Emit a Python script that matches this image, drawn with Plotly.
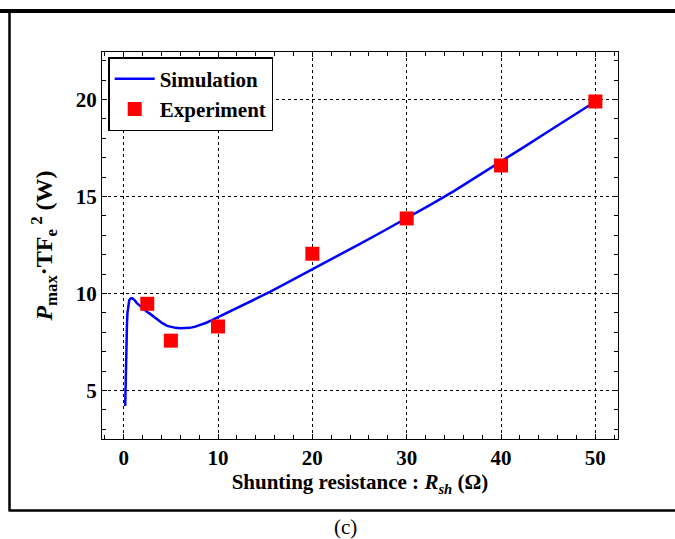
import plotly.graph_objects as go

# ---- data ----
sim_x = [0.16, 0.19, 0.22, 0.26, 0.3, 0.35, 0.4, 0.46, 0.52, 0.58, 0.65, 0.72, 0.8, 0.9, 1.0,
         1.2, 1.4, 1.7, 2.1, 2.5, 2.8, 3.2, 3.6, 4.1, 4.6, 5.0, 5.5, 6.0, 6.5, 7.0, 7.5, 8.1,
         8.7, 9.3, 9.9, 11, 12.5, 14, 15.5, 17.5, 20, 22.5, 25, 27.5, 30, 32.5, 35, 37.5,
         40, 42.5, 45, 47.5, 50]
sim_y = [4.2, 5.2, 6.05, 7.0, 7.8, 8.5, 9.0, 9.33, 9.52, 9.63, 9.7, 9.74, 9.76, 9.76, 9.73,
         9.63, 9.5, 9.37, 9.2, 9.05, 8.95, 8.8, 8.65, 8.47, 8.33, 8.27, 8.23, 8.21, 8.21, 8.23,
         8.28, 8.37, 8.48, 8.61, 8.75, 9.0, 9.35, 9.71, 10.08, 10.6, 11.24, 11.89, 12.55, 13.21,
         13.88, 14.57, 15.28, 16.03, 16.8, 17.57, 18.35, 19.12, 19.9]
exp_x = [2.5, 5, 10, 20, 30, 40, 50]
exp_y = [9.47, 7.57, 8.3, 12.05, 13.87, 16.6, 19.9]

x_ticks = [0, 10, 20, 30, 40, 50]
y_ticks = [5, 10, 15, 20]

W, H = 675, 539
ML, MR, MT, MB = 102, 57, 52, 100
PW, PH = W - ML - MR, H - MT - MB

def px(x):
    return (x - ML) / PW

def py(y):
    return 1 - (y - MT) / PH

FONT = "Liberation Serif, Times New Roman, serif"

fig = go.Figure()
fig.add_trace(go.Scatter(x=sim_x, y=sim_y, mode="lines", name="<b>Simulation</b>",
                         line=dict(color="#0000ff", width=2.5)))
fig.add_trace(go.Scatter(x=exp_x, y=exp_y, mode="markers", name="<b>Experiment</b>",
                         marker=dict(symbol="square", size=14, color="#ff0000",
                                     line=dict(width=0))))

axis_common = dict(
    showline=True, linecolor="black", linewidth=1.2, mirror="ticks",
    ticks="inside", ticklen=5, tickcolor="black", tickwidth=1,
    showgrid=True, gridcolor="black", griddash="dot", gridwidth=1,
    zeroline=False,
    tickfont=dict(family=FONT, size=21, color="black"),
)

fig.update_xaxes(range=[-2.3, 52.4], tickvals=x_ticks,
                 ticktext=["<b>%d</b>" % v for v in x_ticks],
                 minor=dict(dtick=2, ticks="inside", ticklen=4, tickcolor="black", showgrid=False),
                 title=dict(text="<b>Shunting resistance : <i>R</i><sub><i>sh</i></sub> (Ω)</b>",
                            font=dict(family=FONT, size=21, color="black"),
                            standoff=4),
                 **axis_common)
fig.update_yaxes(range=[2.5, 22.45], tickvals=y_ticks,
                 ticktext=["<b>%d</b>" % v for v in y_ticks],
                 minor=dict(dtick=1, ticks="inside", ticklen=4, tickcolor="black", showgrid=False),
                 title=dict(text="<b><i>P</i><sub>max</sub>·TF<sub>e</sub><sup> 2</sup> (W)</b>",
                            font=dict(family=FONT, size=24, color="black"),
                            standoff=16),
                 **axis_common)

shapes = [
    dict(type="line", xref="paper", yref="paper", x0=px(0), x1=px(W), y0=py(11), y1=py(11),
         line=dict(color="black", width=4)),
    dict(type="line", xref="paper", yref="paper", x0=px(9.5), x1=px(9.5), y0=py(10), y1=py(510.5),
         line=dict(color="black", width=2.5)),
    dict(type="line", xref="paper", yref="paper", x0=px(8.5), x1=px(W), y0=py(510.5), y1=py(510.5),
         line=dict(color="black", width=2.5)),
]

fig.update_layout(
    width=W, height=H,
    margin=dict(l=ML, r=MR, t=MT, b=MB),
    paper_bgcolor="white", plot_bgcolor="white",
    font=dict(family=FONT, color="black"),
    showlegend=True,
    legend=dict(x=0.012, y=0.987, xanchor="left", yanchor="top",
                bgcolor="white", bordercolor="black", borderwidth=1.5,
                font=dict(family=FONT, size=21, color="black"),
                tracegroupgap=0, itemwidth=40),
    shapes=shapes,
    annotations=[dict(text="(c)", xref="paper", yref="paper", x=px(345), y=py(527),
                      xanchor="center", yanchor="middle",
                      showarrow=False, font=dict(family=FONT, size=21, color="black"))],
)

fig.write_html("out.html")
